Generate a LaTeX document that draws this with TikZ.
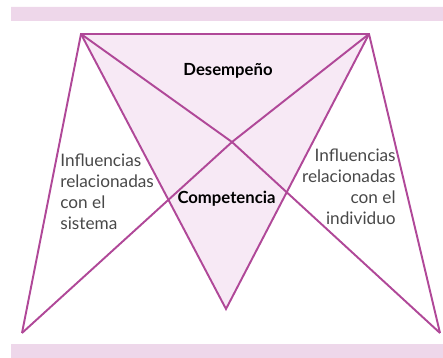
\documentclass[tikz,border=0pt]{standalone}
\usepackage{fontspec}
\setmainfont{Lato}
\definecolor{linea}{RGB}{176,72,152}
\definecolor{relleno}{RGB}{247,233,245}
\definecolor{banda}{RGB}{238,215,234}
\definecolor{texto}{RGB}{72,72,72}
\tikzset{ arista/.style = { draw = linea
                          , line width = 1.1pt
                          , line join  = miter
                          },
          rotulo/.style = { font      = \bfseries\fontsize{9.5}{11}\selectfont
                          , text      = black
                          , inner sep = 0pt
                          },
          bloque/.style = { font      = \fontsize{9.8}{11.8}\selectfont
                          , text      = texto
                          , inner sep = 0pt
                          }
        }

\begin{document}
\begin{tikzpicture}[x=0.02cm, y=-0.02cm]
    \useasboundingbox (0,0) rectangle (443,358);
    \fill[banda] (11,7) rectangle (443,21)  (11,344) rectangle (443,358);
    % vertices
    \foreach \n/\x/\y in {ti/81/34, td/369/34, bi/22/333, bd/440/333, vm/226/309, cx/232/142} {
      \coordinate (\n) at (\x,\y);
    }
    \fill[relleno] (ti) -- (td) -- (vm) -- cycle;
    \draw[arista] (bi) -- (ti) -- (td) -- (bd);
    \draw[arista] (ti) -- (vm) -- (td);
    \draw[arista] (ti) -- (cx) -- (bd)  (td) -- (cx) -- (bi);
    % textos
    \node[rotulo] (desempeno)   at (228,71)  {Desempeño};
    \node[rotulo] (competencia) at (226.5,199) {Competencia};
    \node[bloque, align=left,  anchor=north west] (sistema)   at (60,154)
      {Influencias\\relacionadas\\con el\\sistema};
    \node[bloque, align=right, anchor=north east] (individuo) at (396,149)
      {Influencias\\relacionadas\\con el\\individuo};
\end{tikzpicture}
\end{document}
